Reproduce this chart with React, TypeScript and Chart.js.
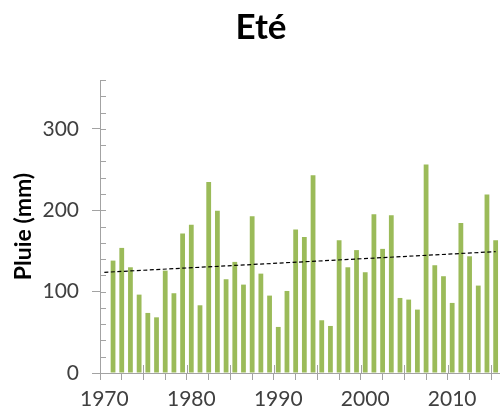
import React, { useEffect, useRef } from "react";
import { Chart, registerables } from "chart.js";

Chart.register(...registerables);

// ---- data ----
const firstYear = 1971;
const rain = [
  138.1, 153.7, 129.9, 96.3, 73.8, 68.4, 125.8, 98.0, 171.3, 182.0,
  83.2, 234.8, 199.2, 115.2, 136.5, 108.6, 192.6, 122.1, 95.1, 56.6,
  100.8, 176.2, 167.2, 243.0, 64.8, 57.8, 163.1, 129.9, 151.0, 123.8,
  195.1, 152.5, 193.9, 92.2, 90.2, 77.9, 256.1, 132.4, 118.9, 86.1,
  184.4, 143.4, 107.4, 219.3, 163.1,
];
const years = rain.map((_, i) => firstYear + i);
const trendYears = [1970, 2015];
const trendValues = [123.7, 149.1];
const xLabels = [1970, 1980, 1990, 2000, 2010];
const yLabels = [0, 100, 200, 300];

const titleText = "Eté";
const yTitle = "Pluie (mm)";

const axisColor = "#a3a3a3";
const barColor = "#9bbb59";
const FONT = "Lato";

const xMin = 1969.5;
const xMax = 2015.5;
const xStep = 2.5;
const yMin = 0;
const yMax = 360;
const yStep = 20;

const innerTicks = {
  id: "innerTicks",
  afterDatasetsDraw(chart: any) {
    const { ctx } = chart;
    const x = chart.scales.x;
    const y = chart.scales.y;
    ctx.save();
    ctx.strokeStyle = axisColor;
    ctx.lineWidth = 1;
    ctx.beginPath();
    y.ticks.forEach((t: any) => {
      if (t.value === 0) return;
      const py = Math.round(y.getPixelForValue(t.value)) + 0.5;
      ctx.moveTo(x.left, py);
      ctx.lineTo(x.left + 6, py);
    });
    x.ticks.forEach((t: any, i: number) => {
      if (i === 0 || i % 2 !== 0) return;
      const px = Math.round(x.getPixelForValue(t.value)) + 0.5;
      ctx.moveTo(px, y.bottom);
      ctx.lineTo(px, y.bottom - 8);
    });
    ctx.stroke();
    ctx.restore();
  },
};

export default function App() {
  const ref = useRef<HTMLCanvasElement | null>(null);

  useEffect(() => {
    if (!ref.current) return;
    const chart = new Chart(ref.current, {
      type: "bar",
      data: {
        datasets: [
          {
            type: "line",
            data: trendYears.map((yr, i) => ({ x: yr, y: trendValues[i] })),
            borderColor: "#000000",
            borderWidth: 1.2,
            borderDash: [4, 2.5],
            pointRadius: 0,
            fill: false,
            order: 0,
          } as any,
          {
            type: "bar",
            data: years.map((yr, i) => ({ x: yr, y: rain[i] })),
            backgroundColor: barColor,
            borderWidth: 0,
            barPercentage: 1,
            categoryPercentage: 0.55,
            order: 1,
          },
        ],
      },
      options: {
        animation: false,
        responsive: false,
        devicePixelRatio: 1,
        layout: { padding: { left: 22, right: 0, top: 0, bottom: 0 } },
        plugins: {
          legend: { display: false },
          tooltip: { enabled: false },
          title: {
            display: true,
            text: titleText,
            color: "#000000",
            font: { family: FONT, size: 35, weight: "bold" },
            padding: { top: 7, bottom: 31 },
          },
        },
        scales: {
          x: {
            type: "linear",
            min: xMin,
            max: xMax,
            offset: false,
            bounds: "data",
            afterBuildTicks: (scale: any) => {
              const ticks = [];
              for (let v = xMin; v < xMax; v += xStep) ticks.push({ value: v });
              scale.ticks = ticks;
            },
            afterFit: (scale: any) => {
              scale.height = 39;
            },
            border: { display: true, color: axisColor, width: 1 },
            grid: {
              display: true,
              offset: false,
              drawOnChartArea: false,
              drawTicks: true,
              tickLength: 7,
              color: axisColor,
              tickColor: axisColor,
            },
            ticks: {
              stepSize: xStep,
              autoSkip: false,
              maxRotation: 0,
              minRotation: 0,
              padding: 7,
              labelOffset: 4.35,
              color: "#404040",
              font: { family: FONT, size: 21 },
              callback: (value: any) => {
                const yr = Math.round(Number(value) + 0.5);
                return xLabels.includes(yr) && Math.abs(Number(value) + 0.5 - yr) < 1e-6 ? String(yr) : "";
              },
            },
          },
          y: {
            type: "linear",
            min: yMin,
            max: yMax,
            afterFit: (scale: any) => {
              scale.width = 78;
            },
            border: { display: true, color: axisColor, width: 1 },
            grid: {
              display: true,
              drawOnChartArea: false,
              drawTicks: true,
              tickLength: 8,
              color: axisColor,
              tickColor: (ctx: any) =>
                ctx.tick && yLabels.includes(ctx.tick.value) ? axisColor : "rgba(0,0,0,0)",
            },
            ticks: {
              stepSize: yStep,
              autoSkip: false,
              padding: 13,
              color: "#404040",
              font: { family: FONT, size: 21 },
              callback: (value: any) => (yLabels.includes(Number(value)) ? String(value) : ""),
            },
            title: {
              display: true,
              text: yTitle,
              color: "#000000",
              font: { family: FONT, size: 23, weight: "bold" },
              padding: { top: -12.3, bottom: 0 },
            },
          },
        },
      },
      plugins: [innerTicks],
    } as any);
    return () => chart.destroy();
  }, []);

  return (
    <div style={{ position: "absolute", left: 0, top: 0, width: 500, height: 412, background: "#ffffff" }}>
      <canvas ref={ref} width={500} height={412} style={{ display: "block", width: 500, height: 412 }} />
    </div>
  );
}
